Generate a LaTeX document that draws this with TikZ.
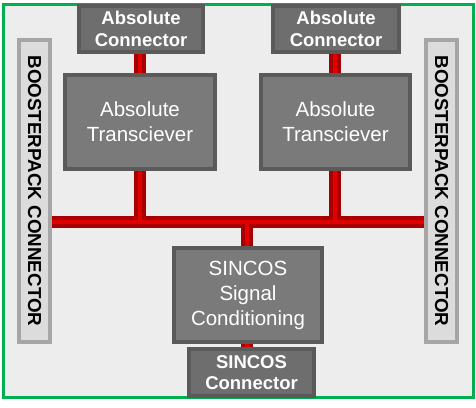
\documentclass[tikz,border=0pt]{standalone}
\usepackage{fontspec}
\setmainfont{Liberation Sans}
\definecolor{bgc}{HTML}{EDEDED}
\definecolor{frame}{HTML}{00B050}
\definecolor{boxc}{HTML}{6E6E6E}
\definecolor{boxline}{HTML}{5A5A5A}
\definecolor{tboxc}{HTML}{7A7A7A}
\definecolor{bpfill}{HTML}{DCDCDC}
\definecolor{bpline}{HTML}{A6A6A6}
\definecolor{busdark}{HTML}{A80000}
\definecolor{buslight}{HTML}{E00000}
\tikzset{
  conbox/.style={draw=boxline, fill=boxc, line width=4pt, inner sep=0pt,
    text=white, align=center, font=\fontsize{18.5}{21.5}\selectfont\bfseries},
  xcvbox/.style={draw=boxline, fill=tboxc, line width=4pt, inner sep=0pt,
    text=white, align=center, font=\fontsize{20.5}{25}\selectfont},
  bpbox/.style={draw=bpline, fill=bpfill, line width=4pt, inner sep=0pt,
    minimum width=31pt, minimum height=302pt},
  bptext/.style={rotate=-90, font=\fontsize{18.8}{20}\selectfont\bfseries, text=black},
  busouter/.style={draw=busdark, line width=12pt},
  businner/.style={draw=buslight, line width=4.5pt},
}
\begin{document}
\begin{tikzpicture}[x=1pt,y=-1pt]
\useasboundingbox (0,0) rectangle (476,407);
\fill[white] (0,0) rectangle (476,407);
\draw[frame, line width=3pt, fill=bgc] (3,4) rectangle (473,397);
% bus coordinates
\coordinate (busL) at (52,222);
\coordinate (busR) at (424,222);
\coordinate (busA) at (140,222);
\coordinate (busB) at (335,222);
\coordinate (busC) at (247,222);
\coordinate (topA) at (140,40);
\coordinate (topB) at (335,40);
\coordinate (botC) at (247,360);
% bus lines
\foreach \s in {busouter, businner}{
  \draw[\s] (busL) -- (busR);
  \draw[\s] (topA) -- (busA);
  \draw[\s] (topB) -- (busB);
  \draw[\s] (busC) -- (botC);
}
% boxes
\node[conbox, minimum width=124pt, minimum height=46pt] (acl) at (141,29) {Absolute\\Connector};
\node[conbox, minimum width=126pt, minimum height=46pt] (acr) at (336,29) {Absolute\\Connector};
\node[xcvbox, minimum width=150pt, minimum height=94pt] (atl) at (140,122) {Absolute\\Transciever};
\node[xcvbox, minimum width=149pt, minimum height=94pt] (atr) at (335.5,122) {Absolute\\Transciever};
\node[xcvbox, minimum width=148pt, minimum height=94pt] (ssc) at (248,295) {SINCOS\\Signal\\Conditioning};
\node[conbox, minimum width=125pt, minimum height=47pt] (scn) at (251.5,372.5) {SINCOS\\Connector};
\node[bpbox] (bpl) at (34.5,191) {};
\node[bpbox] (bpr) at (441.5,191) {};
\node[bptext] at (bpl) {BOOSTERPACK CONNECTOR};
\node[bptext] at (bpr) {BOOSTERPACK CONNECTOR};
\end{tikzpicture}
\end{document}
